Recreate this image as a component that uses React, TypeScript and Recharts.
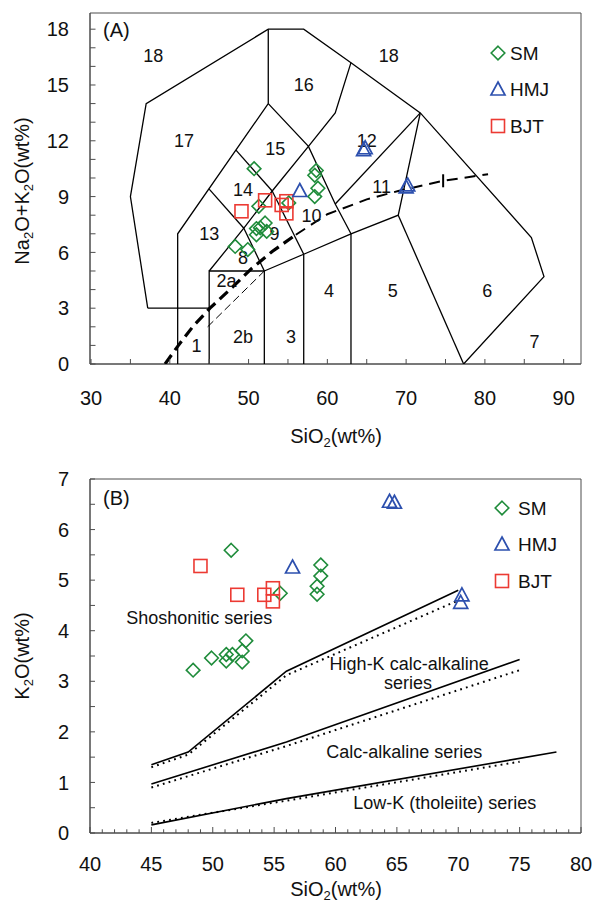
import React from "react";
import { ScatterChart, Scatter, XAxis, YAxis, ReferenceArea } from "recharts";

const FONT = '"Liberation Sans", Arial, Helvetica, sans-serif';
const AXIS = "#4d4d4d";
const INK = "#111";
const SM_COLOR = "#1f8c3b";
const HMJ_COLOR = "#2d50ae";
const BJT_COLOR = "#ec3a33";

// ---------- (A) SiO2 vs Na2O+K2O ----------
const tasSM = [
  [50.7, 10.5], [58.6, 10.4], [58.4, 10.15], [58.8, 9.45], [58.4, 9.0],
  [51.3, 8.48], [55.1, 8.66], [51.0, 7.28], [51.5, 7.32], [52.1, 7.58],
  [52.3, 7.13], [51.0, 6.95], [48.3, 6.32], [49.9, 6.15],
];
const tasHMJ = [[64.6, 11.5], [64.8, 11.6], [56.5, 9.3], [70.0, 9.5], [70.2, 9.6]];
const tasBJT = [[49.1, 8.21], [52.1, 8.8], [54.2, 8.55], [54.8, 8.75], [54.8, 8.1]];

// field boundaries, each one an open polyline
const tasOutline = [[37.2, 3], [35, 9], [37, 14], [52.5, 18], [57, 18], [63, 16.2], [71.8, 13.5], [85.9, 6.8], [87.5, 4.7], [77.3, 0]];
const tasFoidLine = [[41, 0], [41, 7], [52.5, 14], [52.5, 18]];
const tasPeridot = [[37.2, 3], [45, 3]];
const tasGabbro = [[45, 0], [45, 5], [52, 5]];
const tas52 = [[52, 0], [52, 5]];
const tas57 = [[57, 0], [57, 5.9]];
const tas63 = [[63, 0], [63, 7]];
const tasSubalkTop = [[52, 5], [57, 5.9], [63, 7], [69, 8], [71.8, 13.5]];
const tasGranite = [[69, 8], [77.3, 0]];
const tasMonzo = [[45, 5], [49.4, 7.3], [53, 9.3], [57.6, 11.7], [61, 13.5], [63, 16.2]];
const tasMonzogabbro = [[49.4, 7.3], [52, 5]];
const tasMonzodiorite = [[53, 9.3], [57, 5.9]];
const tasFoidGabbro = [[45, 9.4], [49.4, 7.3]];
const tasFoidMonzo = [[48.4, 11.5], [53, 9.3]];
const tasSyenite = [[52.5, 14], [57.6, 11.7], [61, 8.6], [63, 7]];
const tasQzMonzo = [[61, 8.6], [71.8, 13.5]];
const tasFields = [
  tasOutline, tasFoidLine, tasPeridot, tasGabbro, tas52, tas57, tas63, tasSubalkTop,
  tasGranite, tasMonzo, tasMonzogabbro, tasMonzodiorite, tasFoidGabbro, tasFoidMonzo,
  tasSyenite, tasQzMonzo,
];

// alkaline / subalkaline divides
const alkCurveLow = [[39.4, 0], [41, 0.95], [43, 2.05], [45.1, 3.0], [48, 4.15], [50.3, 5.1], [53, 6.05], [56, 6.95]];
const alkCurveHigh = [[56, 6.95], [60, 8.05], [65, 8.85], [69, 9.3], [74.7, 9.85], [80.4, 10.2]];
const gabbroSplit = [[44.8, 2.0], [52, 5.0]];
const curveMark = [[74.7, 9.5], [74.7, 10.2]];

const tasFieldNames = [
  ["18", 37.9, 16.55], ["18", 67.8, 16.55], ["16", 57.0, 15.0], ["17", 41.8, 11.97],
  ["15", 53.4, 11.54], ["12", 65.0, 11.98], ["14", 49.3, 9.38], ["11", 66.9, 9.5],
  ["13", 45.0, 7.0], ["10", 58.0, 7.94], ["9", 53.3, 7.0], ["8", 49.3, 5.72],
  ["2a", 47.2, 4.44], ["2b", 49.3, 1.45], ["3", 55.4, 1.46], ["1", 43.4, 0.95],
  ["4", 60.2, 3.94], ["5", 68.3, 3.94], ["6", 80.3, 3.94], ["7", 86.3, 1.17],
];

const tasXTicks = [30, 35, 40, 45, 50, 55, 60, 65, 70, 75, 80, 85, 90];
const tasYTicks = [0, 1, 2, 3, 4, 5, 6, 7, 8, 9, 10, 11, 12, 13, 14, 15, 16, 17, 18];

// ---------- (B) SiO2 vs K2O ----------
const kSM = [
  [51.5, 5.59], [58.8, 5.3], [58.8, 5.08], [58.5, 4.88], [58.5, 4.72], [55.5, 4.74],
  [48.4, 3.22], [49.9, 3.46], [51.1, 3.53], [51.1, 3.4], [51.6, 3.53], [52.4, 3.6],
  [52.4, 3.38], [52.7, 3.8],
];
const kHMJ = [[56.5, 5.25], [64.4, 6.55], [64.8, 6.53], [70.3, 4.7], [70.2, 4.55]];
const kBJT = [[49.0, 5.28], [52.0, 4.71], [54.2, 4.71], [54.9, 4.84], [54.9, 4.58]];

const shoshLine = [[45, 1.35], [48, 1.6], [56, 3.2], [70, 4.8]];
const shoshDotted = [[45, 1.3], [48, 1.55], [56, 3.12], [70, 4.6]];
const highKLine = [[45, 0.97], [56, 1.8], [75, 3.43]];
const highKDotted = [[45, 0.9], [56, 1.72], [75, 3.22]];
const lowKLine = [[45, 0.16], [56, 0.68], [78, 1.6]];
const lowKDotted = [[45, 0.2], [57, 0.68], [75, 1.41]];

const seriesNames = [
  ["Shoshonitic series", 48.9, 4.26],
  ["High-K calc-alkaline", 66.0, 3.34],
  ["series", 65.9, 2.96],
  ["Calc-alkaline series", 65.6, 1.61],
  ["Low-K (tholeiite) series", 68.9, 0.6],
];

const kXTicks = Array.from({ length: 41 }, (_, i) => 40 + i);
const kYTicks = [0, 0.5, 1, 1.5, 2, 2.5, 3, 3.5, 4, 4.5, 5, 5.5, 6, 6.5, 7];

const pts = (a: number[][]) => a.map(([x, y]) => ({ x, y }));
const named = (a: any[]) => a.map(([label, x, y]) => ({ x, y, label }));

// ---------- markers ----------
function Diamond({ cx, cy, color = SM_COLOR }: any) {
  const r = 6.8;
  return <polygon points={`${cx},${cy - r} ${cx + r},${cy} ${cx},${cy + r} ${cx - r},${cy}`} fill="none" stroke={color} strokeWidth={1.6} />;
}
function Triangle({ cx, cy, color = HMJ_COLOR }: any) {
  return <polygon points={`${cx},${cy - 7.5} ${cx + 7},${cy + 5.5} ${cx - 7},${cy + 5.5}`} fill="none" stroke={color} strokeWidth={1.7} />;
}
function Square({ cx, cy, color = BJT_COLOR }: any) {
  return <rect x={cx - 6.5} y={cy - 6.5} width={13} height={13} fill="none" stroke={color} strokeWidth={1.6} />;
}
const noDot = () => <g />;
const fieldText = (size: number) => (p: any) => (
  <text x={p.cx} y={p.cy} textAnchor="middle" dominantBaseline="central" fontSize={size} fontFamily={FONT} fill={INK}>
    {p.payload.label}
  </text>
);

// inward ticks, labels only on majors
const bottomTick = (step: number, majorLen: number, minorLen: number, dy: number) => (props: any) => {
  const { x, y, payload } = props;
  const v = payload.value;
  const major = Math.abs(v / step - Math.round(v / step)) < 1e-6;
  return (
    <g>
      <line x1={x} x2={x} y1={y} y2={y - (major ? majorLen : minorLen)} stroke={AXIS} strokeWidth={1} />
      {major && (
        <text x={x} y={y + dy} textAnchor="middle" fontSize={20} fontFamily={FONT} fill={INK}>{v}</text>
      )}
    </g>
  );
};
const leftTick = (step: number, len: number, gap: number) => (props: any) => {
  const { x, y, payload } = props;
  const v = payload.value;
  const major = Math.abs(v / step - Math.round(v / step)) < 1e-6;
  return (
    <g>
      <line x1={x} x2={x + len} y1={y} y2={y} stroke={AXIS} strokeWidth={1} />
      {major && (
        <text x={x - gap} y={y} dy="0.36em" textAnchor="end" fontSize={20} fontFamily={FONT} fill={INK}>{v}</text>
      )}
    </g>
  );
};

const line = (data: number[][], key: string, width: number, dash?: string) => (
  <Scatter
    key={key}
    data={pts(data)}
    line={{ stroke: "#000", strokeWidth: width, strokeDasharray: dash }}
    shape={noDot}
    isAnimationActive={false}
    legendType="none"
  />
);

function LegendBox({ x, y, gap }: { x: number; y: number; gap: number }) {
  const rows: [string, any][] = [["SM", Diamond], ["HMJ", Triangle], ["BJT", Square]];
  return (
    <g>
      {rows.map(([name, M], i) => (
        <g key={name}>
          <M cx={x} cy={y + i * 36.5} />
          <text x={x + gap} y={y + i * 36.5} dominantBaseline="central" fontSize={19} fontFamily={FONT} fill={INK}>{name}</text>
        </g>
      ))}
    </g>
  );
}

export default function App() {
  return (
    <div style={{ position: "relative", width: 592, height: 906, background: "#fff" }}>
      <style>{"body{margin:0;background:#fff}"}</style>

      <ScatterChart width={592} height={440} margin={{ top: 13, right: 11, bottom: 36, left: 30 }}>
        <XAxis type="number" dataKey="x" domain={[29.87, 92.2]} allowDataOverflow ticks={tasXTicks} interval={0}
          height={40} tickSize={0} tickMargin={0} tickLine={false} axisLine={{ stroke: AXIS }}
          tick={bottomTick(10, 5, 5, 41)} />
        <YAxis type="number" dataKey="y" domain={[0, 18.87]} allowDataOverflow ticks={tasYTicks} interval={0}
          width={60} tickSize={0} tickMargin={0} tickLine={false} axisLine={{ stroke: AXIS }}
          tick={leftTick(3, 5.5, 21)} />
        <ReferenceArea x1={29.87} x2={92.2} y1={0} y2={18.87} fill="none" stroke={AXIS} strokeWidth={1} />
        {tasFields.map((f, i) => line(f, `f${i}`, 1.3))}
        {line(alkCurveLow, "alk1", 3.2, "11 6")}
        {line(alkCurveHigh, "alk2", 2, "11 7")}
        {line(gabbroSplit, "split", 1, "8 4")}
        {line(curveMark, "mark", 2)}
        <Scatter data={named(tasFieldNames)} shape={fieldText(18)} isAnimationActive={false} />
        <Scatter data={pts(tasSM)} shape={(p: any) => <Diamond cx={p.cx} cy={p.cy} />} isAnimationActive={false} />
        <Scatter data={pts(tasBJT)} shape={(p: any) => <Square cx={p.cx} cy={p.cy} />} isAnimationActive={false} />
        <Scatter data={pts(tasHMJ)} shape={(p: any) => <Triangle cx={p.cx} cy={p.cy} />} isAnimationActive={false} />
      </ScatterChart>

      <ScatterChart width={592} height={466} margin={{ top: 39, right: 11, bottom: 33, left: 30 }}>
        <XAxis type="number" dataKey="x" domain={[40, 80]} allowDataOverflow ticks={kXTicks} interval={0}
          height={40} tickSize={0} tickMargin={0} tickLine={false} axisLine={{ stroke: AXIS }}
          tick={bottomTick(5, 6, 3.7, 38)} />
        <YAxis type="number" dataKey="y" domain={[0, 7]} allowDataOverflow ticks={kYTicks} interval={0}
          width={60} tickSize={0} tickMargin={0} tickLine={false} axisLine={{ stroke: AXIS }}
          tick={leftTick(1, 5, 21)} />
        <ReferenceArea x1={40} x2={80} y1={0} y2={7} fill="none" stroke={AXIS} strokeWidth={1} />
        {line(shoshLine, "s1", 1.6)}
        {line(shoshDotted, "s2", 2, "1.8 4.2")}
        {line(highKLine, "h1", 1.6)}
        {line(highKDotted, "h2", 2, "1.8 4.2")}
        {line(lowKLine, "l1", 1.6)}
        {line(lowKDotted, "l2", 2, "1.8 4.2")}
        <Scatter data={named(seriesNames)} shape={fieldText(18)} isAnimationActive={false} />
        <Scatter data={pts(kSM)} shape={(p: any) => <Diamond cx={p.cx} cy={p.cy} />} isAnimationActive={false} />
        <Scatter data={pts(kBJT)} shape={(p: any) => <Square cx={p.cx} cy={p.cy} />} isAnimationActive={false} />
        <Scatter data={pts(kHMJ)} shape={(p: any) => <Triangle cx={p.cx} cy={p.cy} />} isAnimationActive={false} />
      </ScatterChart>

      <svg width={592} height={906} style={{ position: "absolute", left: 0, top: 0, pointerEvents: "none" }}
        fontFamily={FONT} fill={INK}>
        <text x={103} y={30} dominantBaseline="central" fontSize={20}>(A)</text>
        <text x={103} y={498} dominantBaseline="central" fontSize={20}>(B)</text>
        <LegendBox x={498} y={53} gap={12} />
        <LegendBox x={502} y={508} gap={16} />
        <text x={336} y={443} textAnchor="middle" fontSize={20}>
          SiO<tspan fontSize={13} dy={4}>2</tspan><tspan dy={-4}>(wt%)</tspan>
        </text>
        <text x={336} y={896} textAnchor="middle" fontSize={20}>
          SiO<tspan fontSize={13} dy={4}>2</tspan><tspan dy={-4}>(wt%)</tspan>
        </text>
        <text transform="translate(29,191) rotate(-90)" textAnchor="middle" fontSize={20}>
          Na<tspan fontSize={13} dy={4}>2</tspan><tspan dy={-4}>O+K</tspan><tspan fontSize={13} dy={4}>2</tspan><tspan dy={-4}>O(wt%)</tspan>
        </text>
        <text transform="translate(29,656) rotate(-90)" textAnchor="middle" fontSize={20}>
          K<tspan fontSize={13} dy={4}>2</tspan><tspan dy={-4}>O(wt%)</tspan>
        </text>
      </svg>
    </div>
  );
}
